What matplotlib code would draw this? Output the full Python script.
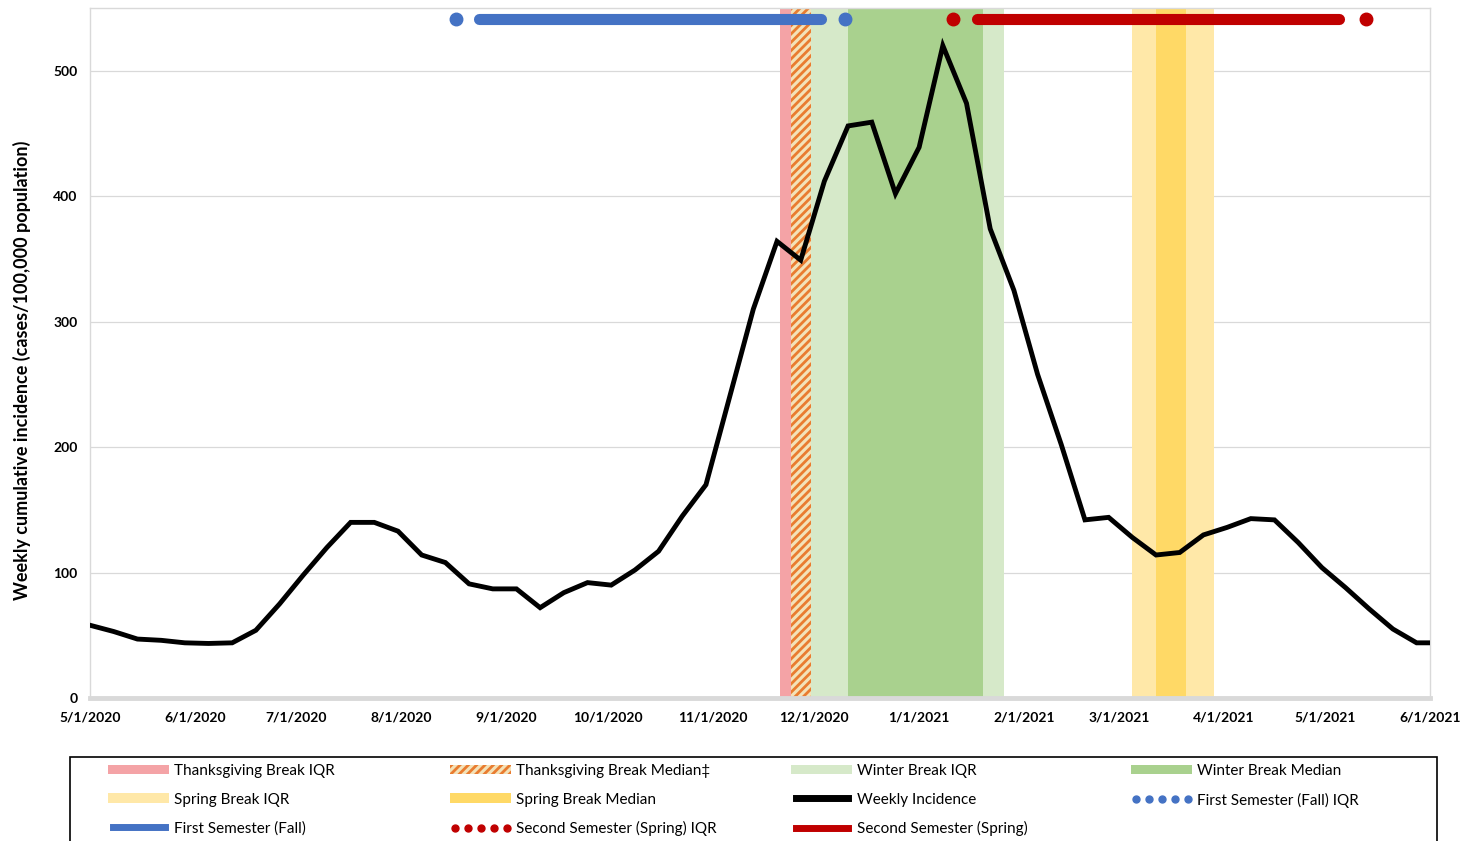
import matplotlib
matplotlib.use("Agg")
import matplotlib.pyplot as plt
import pandas as pd
from matplotlib.patches import Patch, Rectangle
from matplotlib.lines import Line2D

# Weekly incidence (cases/100,000), one value per week starting 5/1/2020
weekly_incidence = [58, 53, 47, 46, 44, 43.5, 44, 54, 75, 98, 120, 140, 140, 133,
                    114, 108, 91, 87, 87, 72, 84, 92, 90, 102, 117, 145, 170, 240,
                    310, 364, 349, 412, 456, 459, 402, 439, 520, 474, 374, 325, 258,
                    202, 142, 144, 128, 114, 116, 130, 136, 143, 142, 124, 104, 88,
                    71, 55, 44, 44]
weeks = pd.date_range("2020-05-01", periods=len(weekly_incidence), freq="7D")

# Break windows (start, end)
thanksgiving_iqr = ("2020-11-21", "2020-11-24")
thanksgiving_median = ("2020-11-24", "2020-11-30")
winter_iqr = ("2020-11-30", "2021-01-26")
winter_median = ("2020-12-11", "2021-01-20")
spring_iqr = ("2021-03-05", "2021-03-29")
spring_median = ("2021-03-12", "2021-03-21")

# Semesters: IQR start/end dots and median span
fall_iqr = ("2020-08-17", "2020-12-10")
fall_median = ("2020-08-24", "2020-12-03")
spring_sem_iqr = ("2021-01-11", "2021-05-13")
spring_sem_median = ("2021-01-18", "2021-05-05")
semester_level = 541

tick_dates = ["2020-05-01", "2020-06-01", "2020-07-01", "2020-08-01", "2020-09-01",
              "2020-10-01", "2020-11-01", "2020-12-01", "2021-01-01", "2021-02-01",
              "2021-03-01", "2021-04-01", "2021-05-01", "2021-06-01"]
tick_labels = ["5/1/2020", "6/1/2020", "7/1/2020", "8/1/2020", "9/1/2020", "10/1/2020",
               "11/1/2020", "12/1/2020", "1/1/2021", "2/1/2021", "3/1/2021", "4/1/2021",
               "5/1/2021", "6/1/2021"]

plt.rcParams['font.family'] = ['Lato', 'DejaVu Sans']
plt.rcParams['hatch.linewidth'] = 2.0

c_pink = "#F4A3A6"
c_hatch_bg = "#F3E2B8"
c_orange = "#E97C30"
c_wint_iqr = "#D6E9C9"
c_wint_med = "#A9D18E"
c_spr_iqr = "#FFE8A8"
c_spr_med = "#FFD966"
c_blue = "#4472C4"
c_red = "#C00000"
c_grey = "#D9D9D9"

W, H = 1462, 841
fig = plt.figure(figsize=(W / 100, H / 100), dpi=100)
ax = fig.add_axes([0.0616, 0.170, 0.9166, 0.8205])

def d(s):
    return pd.Timestamp(s)

# Break shading
ax.axvspan(d(winter_iqr[0]), d(winter_iqr[1]), color=c_wint_iqr, lw=0, zorder=1)
ax.axvspan(d(winter_median[0]), d(winter_median[1]), color=c_wint_med, lw=0, zorder=1.1)
ax.axvspan(d(spring_iqr[0]), d(spring_iqr[1]), color=c_spr_iqr, lw=0, zorder=1)
ax.axvspan(d(spring_median[0]), d(spring_median[1]), color=c_spr_med, lw=0, zorder=1.1)
ax.axvspan(d(thanksgiving_iqr[0]), d(thanksgiving_iqr[1]), color=c_pink, lw=0, zorder=1)
ax.axvspan(d(thanksgiving_median[0]), d(thanksgiving_median[1]), facecolor=c_hatch_bg,
           edgecolor=c_orange, hatch="////", lw=0, zorder=1.1)

# Weekly incidence line
ax.plot(weeks, weekly_incidence, color="black", lw=3.5, zorder=3,
        solid_joinstyle="miter")

# Semester bars
for iqr, med, col in [(fall_iqr, fall_median, c_blue),
                      (spring_sem_iqr, spring_sem_median, c_red)]:
    ax.plot([d(med[0]), d(med[1])], [semester_level, semester_level], color=col,
            lw=8, solid_capstyle="round", zorder=4)
    ax.plot([d(iqr[0]), d(iqr[1])], [semester_level, semester_level], "o", color=col,
            ms=9, zorder=4)

ax.set_xlim(d(tick_dates[0]), d(tick_dates[-1]))
ax.set_ylim(0, 550)
ax.set_xticks([d(t) for t in tick_dates])
ax.set_xticklabels(tick_labels, fontsize=10, fontweight="bold")
ax.set_yticks([0, 100, 200, 300, 400, 500])
ax.set_yticklabels(["0", "100", "200", "300", "400", "500"], fontsize=10,
                   fontweight="bold")
ax.tick_params(axis="both", length=0)
ax.tick_params(axis="x", pad=10)
ax.tick_params(axis="y", pad=9)
ax.grid(axis="y", color=c_grey, lw=0.9, zorder=0)
ax.set_axisbelow(True)
for side in ["left", "right", "top"]:
    ax.spines[side].set_color(c_grey)
    ax.spines[side].set_linewidth(1)
ax.spines["bottom"].set_color(c_grey)
ax.spines["bottom"].set_linewidth(3.5)
ax.spines["bottom"].set_zorder(5)
ax.set_ylabel("Weekly cumulative incidence (cases/100,000 population)", fontsize=13,
              fontweight="bold")
ax.yaxis.set_label_coords(-0.044, 0.475)

# Legend: four columns placed side by side, plus a frame
h_tg_iqr = Patch(facecolor=c_pink, lw=0)
h_tg_med = Patch(facecolor=c_hatch_bg, edgecolor=c_orange, hatch="////", lw=0)
h_w_iqr = Patch(facecolor=c_wint_iqr, lw=0)
h_w_med = Patch(facecolor=c_wint_med, lw=0)
h_s_iqr = Patch(facecolor=c_spr_iqr, lw=0)
h_s_med = Patch(facecolor=c_spr_med, lw=0)
h_weekly = Line2D([], [], color="black", lw=5)
h_fall_iqr = Line2D([], [], color=c_blue, ls="none", marker="o", ms=5)
h_fall = Line2D([], [], color=c_blue, lw=5)
h_spr_iqr = Line2D([], [], color=c_red, ls="none", marker="o", ms=5)
h_spr = Line2D([], [], color=c_red, lw=5)

columns = [
    ([h_tg_iqr, h_s_iqr, h_fall],
     ["Thanksgiving Break IQR", "Spring Break IQR", "First Semester (Fall)"]),
    ([h_tg_med, h_s_med, h_spr_iqr],
     ["Thanksgiving Break Median\u2021", "Spring Break Median",
      "Second Semester (Spring) IQR"]),
    ([h_w_iqr, h_weekly, h_spr],
     ["Winter Break IQR", "Weekly Incidence", "Second Semester (Spring)"]),
    ([h_w_med, h_fall_iqr],
     ["Winter Break Median", "First Semester (Fall) IQR"]),
]
col_x = [108, 450, 791, 1131]
for (hs, ls), x in zip(columns, col_x):
    fig.legend(hs, ls, loc="upper left", bbox_to_anchor=(x / W, 1 - 764 / H),
               fontsize=11, frameon=False, handlelength=4.0, handleheight=0.6,
               handletextpad=0.35, labelspacing=0.95, numpoints=5,
               borderpad=0, borderaxespad=0)

fig.patches.append(Rectangle((70 / W, -0.02), (1437 - 70) / W, 0.02 + 1 - 757 / H,
                             transform=fig.transFigure, fill=False,
                             edgecolor="black", lw=1.2))

fig.savefig("out.png", dpi=100)
